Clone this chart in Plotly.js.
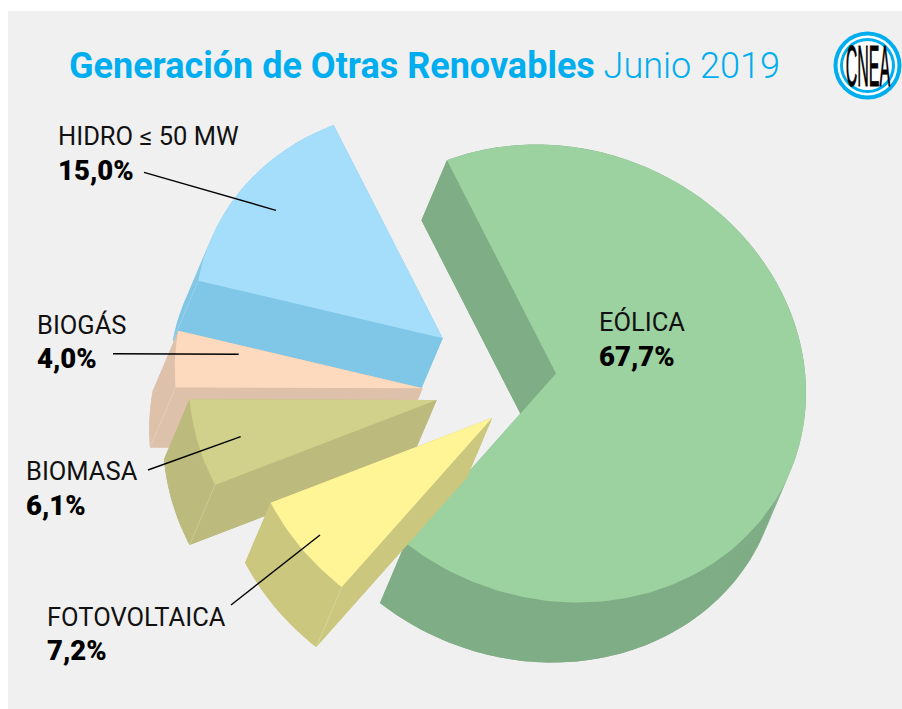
<!DOCTYPE html>
<html>
<head>
<meta charset="utf-8">
<script src="https://cdn.plot.ly/plotly-3.0.1.min.js"></script>
<style>html,body{margin:0;padding:0;background:#fff}#chart{width:902px;height:709px}</style>
</head>
<body>
<div id="chart"></div>
<script>
// Data
const categories = ['EÓLICA', 'FOTOVOLTAICA', 'BIOMASA', 'BIOGÁS', 'HIDRO ≤ 50 MW'];
const values = [67.7, 7.2, 6.1, 4.0, 15.0];

// Styles
const topColors  = ['#9CD1A0', '#FFF597', '#D1D18B', '#FDDABD', '#A5DEFB'];
const sideColors = ['#7FAD86', '#CCC77E', '#BCBB7D', '#DEC1AA', '#80C6E6'];

// Exploded position of each slice's tip, in chart pixels
const tipX = [556, 492.3, 436.7, 422.7, 442.7];
const tipY = [373.5, 417.7, 400, 388.3, 338.3];

// Label placement
const labelX = [599, 47, 26, 37, 58];
const nameY  = [322, 617, 471, 325, 136];
const pctY   = [356, 650, 505, 358, 170];
const leaderFrom = [null, [231, 605], [148, 470], [113, 353.7], [144, 172.3]];
const leaderTo   = [null, [320, 535], [240.7, 436.7], [238.7, 354.3], [276, 210.3]];

// Projection of the tilted disc
const startAngle = -26, radX = 249, skewX = 1, offsetX = 1, skewY = 18.3, radY = 228.3;
const depthX = -25.5, depthY = 60;
const drawOrder = [0, 4, 3, 2, 1];

const rad = d => d * Math.PI / 180;
const rim = (i, a) => [tipX[i] + offsetX + radX * Math.sin(rad(a)) - skewX * Math.cos(rad(a)),
                       tipY[i] + skewY * Math.sin(rad(a)) - radY * Math.cos(rad(a))];
let cum = startAngle;
const angleFrom = values.map(v => { const a = cum; cum += v * 3.6; return a; });
const angleTo = values.map((v, i) => angleFrom[i] + v * 3.6);

function arc(i) {
  const pts = [], n = Math.ceil(angleTo[i] - angleFrom[i]);
  for (let k = 0; k <= n; k++) pts.push(rim(i, angleFrom[i] + (angleTo[i] - angleFrom[i]) * k / n));
  return pts;
}
const shift = p => [p[0] + depthX, p[1] + depthY];
const polyTrace = (path, color) => {
  const closed = path.concat([path[0]]);
  return {type: 'scatter', mode: 'lines', x: closed.map(p => p[0]), y: closed.map(p => p[1]),
          fill: 'toself', fillcolor: color,
          line: {width: 0, color: color}, hoverinfo: 'skip', showlegend: false};
};

const traces = [];
drawOrder.forEach(i => {
  const a = arc(i), tip = [tipX[i], tipY[i]];
  const first = a[0], last = a[a.length - 1];
  const face = [tip].concat(a);
  // the extruded body: back face, rim band and both cut walls, one solid each
  traces.push(polyTrace(face.map(shift), sideColors[i]));
  a.slice(1).forEach((p, k) => {
    traces.push(polyTrace([a[k], p, shift(p), shift(a[k])], sideColors[i]));
  });
  traces.push(polyTrace([tip, first, shift(first), shift(tip)], sideColors[i]));
  traces.push(polyTrace([tip, last, shift(last), shift(tip)], sideColors[i]));
  if (i !== 0) {
    traces.push({type: 'scatter', mode: 'lines', x: [first[0], shift(first)[0]], y: [first[1], shift(first)[1]],
      line: {width: 0.6, color: 'rgba(255,255,255,0.35)'}, hoverinfo: 'skip', showlegend: false});
  }
  traces.push(polyTrace(face, topColors[i]));
});

const font = 'Roboto, sans-serif';
const annotations = [];
categories.forEach((c, i) => {
  annotations.push({x: labelX[i], y: nameY[i], xref: 'x', yref: 'y', text: c, showarrow: false,
    xanchor: 'left', yanchor: 'middle', borderpad: 0, borderwidth: 0,
    font: {family: font, size: 25.5, color: '#111'}});
  annotations.push({x: labelX[i], y: pctY[i], xref: 'x', yref: 'y',
    text: values[i].toFixed(1).replace('.', ',') + '%', showarrow: false,
    xanchor: 'left', yanchor: 'middle', borderpad: 0, borderwidth: 0,
    font: {family: font, size: 27.5, color: '#000', weight: 900}});
});
annotations.push({x: 867.5, y: 65.5, xref: 'x', yref: 'y', text: 'CNEA', showarrow: false,
  xanchor: 'center', yanchor: 'middle', borderpad: 0, borderwidth: 0,
  font: {family: '"Liberation Sans Narrow", "Liberation Sans", sans-serif', size: 20, color: '#000'}});

const ring = (r, color) => ({type: 'circle', xref: 'x', yref: 'y', layer: 'below',
  x0: 867.5 - r, x1: 867.5 + r, y0: 65.5 - r, y1: 65.5 + r,
  fillcolor: color, line: {width: 0}});
const shapes = [
  {type: 'rect', xref: 'x', yref: 'y', layer: 'below', x0: 8, x1: 902, y0: 11, y1: 709,
   fillcolor: '#F0F0F0', line: {width: 0}},
  ring(34, '#00AEEF'), ring(30, '#FFFFFF'), ring(27.5, '#00AEEF'), ring(24.5, '#FFFFFF')
];
leaderFrom.forEach((f, i) => {
  if (!f) return;
  shapes.push({type: 'line', xref: 'x', yref: 'y', layer: 'above',
    x0: f[0], y0: f[1], x1: leaderTo[i][0], y1: leaderTo[i][1],
    line: {color: '#000', width: 1.4}});
});

const layout = {
  width: 902, height: 709,
  margin: {l: 0, r: 0, t: 0, b: 0, pad: 0},
  paper_bgcolor: '#FFFFFF', plot_bgcolor: 'rgba(0,0,0,0)',
  title: {text: '<b>Generación de Otras Renovables</b> Junio 2019',
    font: {family: font, size: 36, color: '#00AEEF', weight: 300},
    x: 69 / 902, xanchor: 'left', xref: 'paper',
    y: 1 - 65 / 709, yanchor: 'middle', yref: 'paper', automargin: false},
  xaxis: {range: [0, 902], visible: false, fixedrange: true},
  yaxis: {range: [709, 0], visible: false, fixedrange: true},
  showlegend: false, shapes, annotations
};

Plotly.newPlot('chart', traces, layout, {displayModeBar: false, staticPlot: true}).then(() => {
  // The emblem's lettering is tall and condensed
  document.querySelectorAll('.annotation-text').forEach(t => {
    if (t.textContent === 'CNEA') {
      const b = t.getBBox(), cx = b.x + b.width / 2, cy = b.y + b.height / 2;
      t.setAttribute('transform', `translate(${cx} ${cy}) scale(0.8 2.9) translate(${-cx} ${-cy})`);
      t.setAttribute('stroke', '#000');
      t.setAttribute('stroke-width', '0.6');
      t.setAttribute('vector-effect', 'non-scaling-stroke');
    }
  });
});
</script>
</body>
</html>
